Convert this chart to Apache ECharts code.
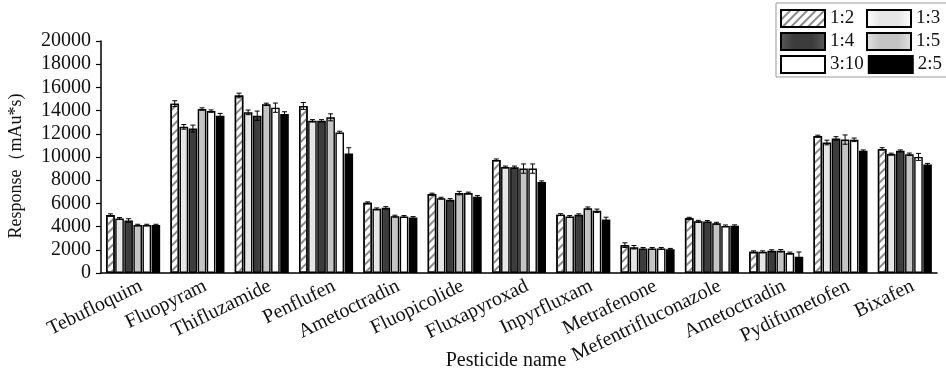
<!DOCTYPE html>
<html>
<head>
<meta charset="utf-8">
<script src="https://cdn.jsdelivr.net/npm/echarts@6/dist/echarts.min.js"></script>
<style>html,body{margin:0;padding:0;background:#fff}#c{width:946px;height:376px}</style>
</head>
<body>
<div id="c"></div>
<script>
const categories = ['Tebufloquim','Fluopyram','Thifluzamide','Penflufen','Ametoctradin','Fluopicolide','Fluxapyroxad','Inpyrfluxam','Metrafenone','Mefentrifluconazole','Ametoctradin','Pydifumetofen','Bixafen'];
const seriesNames = ['1:2','1:3','1:4','1:5','3:10','2:5'];
const yTicks = [0,2000,4000,6000,8000,10000,12000,14000,16000,18000,20000];

const v12  = [5000,14600,15300,14400,6050,6800,9750,5030,2400,4720,1830,11800,10700];
const v13  = [4700,12600,13850,13120,5530,6450,9140,4870,2220,4460,1830,11250,10250];
const v14  = [4530,12450,13560,13120,5620,6310,9120,5020,2120,4440,1920,11600,10530];
const v15  = [4140,14140,14540,13420,4900,6890,9000,5590,2120,4290,1920,11500,10240];
const v310 = [4140,13960,14250,12120,4870,6890,9000,5360,2120,4060,1720,11480,10010];
const v25  = [4140,13560,13700,10300,4780,6570,7840,4610,2040,4070,1410,10530,9350];

const e12  = [100,250,200,300,80,80,80,80,200,80,80,80,100];
const e13  = [80,200,200,100,80,80,80,80,150,80,80,200,80];
const e14  = [150,300,400,100,100,100,100,80,80,80,80,150,80];
const e15  = [60,100,100,300,80,150,400,100,80,80,100,400,100];
const e310 = [60,100,400,100,80,80,400,150,80,80,80,150,300];
const e25  = [60,200,200,500,80,100,100,200,80,80,400,80,100];

const values = [v12, v13, v14, v15, v310, v25];
const errors = [e12, e13, e14, e15, e310, e25];

const SERIF = '"Liberation Serif", "Times New Roman", serif';
const CAT_GAP = 0.16, BAR_GAP = 0.06, N = 6;

function hgrad(edge, mid) {
  return new echarts.graphic.LinearGradient(0, 0, 1, 0, [
    {offset: 0, color: edge}, {offset: 0.3, color: mid}, {offset: 0.7, color: mid}, {offset: 1, color: edge}
  ]);
}
const styles = [
  {color: '#ffffff', decal: {symbol: 'rect', symbolSize: 1, dashArrayX: [1, 0], dashArrayY: [1.2, 3.5], rotation: -Math.PI / 4, color: '#8a8a8a'}},
  {color: hgrad('#ffffff', '#e6e6e6')},
  {color: hgrad('#5a5a5a', '#3c3c3c')},
  {color: hgrad('#e2e2e2', '#c4c4c4')},
  {color: '#ffffff'},
  {color: '#000000'}
];

const series = [];
seriesNames.forEach((name, i) => {
  series.push({
    name: name,
    type: 'bar',
    data: values[i],
    barGap: (BAR_GAP * 100) + '%',
    barCategoryGap: (CAT_GAP * 100) + '%',
    itemStyle: Object.assign({borderColor: '#000', borderWidth: 1.4}, styles[i]),
    emphasis: {disabled: true}
  });
});
seriesNames.forEach((name, i) => {
  series.push({
    type: 'custom',
    name: 'err' + i,
    z: 5,
    data: values[i].map((v, k) => [k, v, errors[i][k]]),
    renderItem: function (params, api) {
      const k = api.value(0), v = api.value(1), e = api.value(2);
      const band = api.size([1, 0])[0];
      const bw = band * (1 - CAT_GAP) / (N + (N - 1) * BAR_GAP);
      const start = -(N * bw + (N - 1) * bw * BAR_GAP) / 2;
      const off = start + i * bw * (1 + BAR_GAP) + bw / 2;
      const top = api.coord([k, v + e]);
      const bot = api.coord([k, v - e]);
      const x = top[0] + off;
      const cap = 2.5;
      const st = {stroke: '#000', lineWidth: 1};
      return {type: 'group', children: [
        {type: 'line', shape: {x1: x, y1: top[1], x2: x, y2: bot[1]}, style: st},
        {type: 'line', shape: {x1: x - cap, y1: top[1], x2: x + cap, y2: top[1]}, style: st},
        {type: 'line', shape: {x1: x - cap, y1: bot[1], x2: x + cap, y2: bot[1]}, style: st}
      ]};
    },
    silent: true
  });
});

const chart = echarts.init(document.getElementById('c'));
chart.setOption({
  animation: false,
  backgroundColor: '#fff',
  textStyle: {fontFamily: SERIF, color: '#111'},
  grid: {left: 101, right: 9, top: 41, bottom: 103, containLabel: false, outerBoundsMode: 'none'},
  legend: {
    data: seriesNames,
    left: 776, top: 3,
    width: 170,
    orient: 'horizontal',
    icon: 'rect',
    itemWidth: 44, itemHeight: 17, itemGap: 4,
    padding: [6, 2, 3, 4],
    borderColor: '#999', borderWidth: 1,
    textStyle: {fontFamily: SERIF, fontSize: 19, color: '#111', width: 32, lineHeight: 17, padding: [0, 0, 0, 0]}
  },
  xAxis: {
    type: 'category',
    data: categories,
    name: 'Pesticide name',
    nameLocation: 'middle',
    nameGap: 78,
    nameMoveOverlap: false,
    nameTextStyle: {fontFamily: SERIF, fontSize: 20, color: '#111', padding: [0, 26, 0, 0]},
    axisLine: {lineStyle: {color: '#000', width: 1.5}},
    axisTick: {alignWithLabel: true, length: 5, lineStyle: {color: '#000', width: 1.2}},
    axisLabel: {rotate: 26, interval: 0, fontFamily: SERIF, fontSize: 20, color: '#111', margin: 16, padding: [0, -9, 0, 0]}
  },
  yAxis: {
    type: 'value',
    min: 0, max: 20000, interval: 2000,
    name: 'Response（mAu*s)',
    nameLocation: 'middle',
    nameGap: 76,
    nameMoveOverlap: false,
    nameTextStyle: {fontFamily: SERIF, fontSize: 18, color: '#111', padding: [0, 18, 0, 0]},
    axisLine: {show: true, lineStyle: {color: '#000', width: 1.5}},
    axisTick: {show: true, length: 5, lineStyle: {color: '#000', width: 1.2}},
    axisLabel: {fontFamily: SERIF, fontSize: 20, color: '#111', margin: 10,
      formatter: function (v) { return yTicks.indexOf(v) >= 0 ? String(v) : ''; }},
    splitLine: {show: false}
  },
  series: series
});
</script>
</body>
</html>
